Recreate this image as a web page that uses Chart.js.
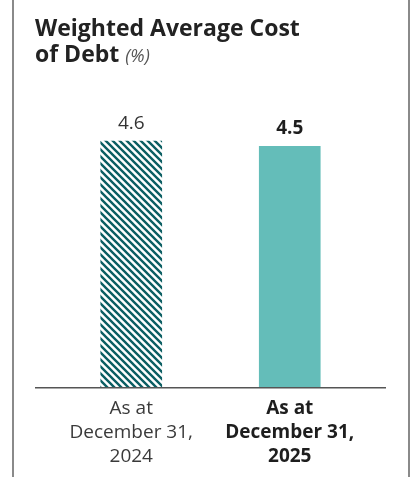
<!DOCTYPE html>
<html lang="en">
<head>
<meta charset="utf-8" />
<script src="https://cdn.jsdelivr.net/npm/chart.js@4.4.1/dist/chart.umd.min.js"></script>
<style>
  html, body { margin: 0; padding: 0; background: #fff; }
</style>
</head>
<body>
<canvas id="grafico" width="417" height="477"></canvas>
<script>
// datos
const categorias = [["As at", "December 31,", "2024"], ["As at", "December 31,", "2025"]];
const valores = [4.6, 4.5];
const etiquetas = ["4.6", "4.5"];
const tituloLinea1 = "Weighted Average Cost";
const tituloLinea2 = "of Debt";
const unidad = "(%)";

const fuente = "'Open Sans', 'Noto Sans', sans-serif";

// trama rayada para la barra 2024
function rayado(color) {
  const s = 7;
  const c = document.createElement("canvas");
  c.width = s; c.height = s;
  const g = c.getContext("2d");
  g.strokeStyle = color;
  g.lineWidth = 2.4;
  g.beginPath();
  g.moveTo(-1, -1); g.lineTo(s + 1, s + 1);
  g.moveTo(-1, s - 1); g.lineTo(1, s + 1);
  g.moveTo(s - 1, -1); g.lineTo(s + 1, 1);
  g.stroke();
  return g.createPattern(c, "repeat");
}

const decoracion = {
  id: "decoracion",
  beforeDraw(chart) {
    const ctx = chart.ctx;
    ctx.save();
    ctx.fillStyle = "#8a8a8a";
    ctx.fillRect(12, 0, 2, chart.height);
    ctx.fillRect(408, 0, 2, chart.height);
    ctx.restore();
  },
  afterDatasetsDraw(chart) {
    const ctx = chart.ctx;
    const area = chart.chartArea;
    const y0 = chart.scales.y.getPixelForValue(0);
    ctx.save();
    // linea base
    ctx.strokeStyle = "#555";
    ctx.lineWidth = 1.5;
    ctx.beginPath();
    ctx.moveTo(area.left - 17, y0);
    ctx.lineTo(area.right + 17, y0);
    ctx.stroke();
    // valores sobre las barras
    const meta = chart.getDatasetMeta(0);
    ctx.textAlign = "center";
    ctx.textBaseline = "bottom";
    meta.data.forEach((bar, i) => {
      ctx.fillStyle = i === 1 ? "#1e1e1e" : "#333";
      ctx.font = (i === 1 ? "bold " : "") + "19px " + fuente;
      ctx.fillText(etiquetas[i], bar.x, bar.y - 8);
    });
    // titulo
    ctx.textAlign = "left";
    ctx.textBaseline = "alphabetic";
    ctx.fillStyle = "#222";
    ctx.font = "bold 23px " + fuente;
    ctx.fillText(tituloLinea1, 35, 36);
    ctx.fillText(tituloLinea2, 35, 62);
    const w = ctx.measureText(tituloLinea2 + " ").width;
    ctx.fillStyle = "#555";
    ctx.font = "italic 18px " + fuente;
    ctx.fillText(unidad, 35 + w, 62);
    ctx.restore();
  }
};

new Chart(document.getElementById("grafico").getContext("2d"), {
  type: "bar",
  data: {
    labels: categorias,
    datasets: [{
      data: valores,
      backgroundColor: [rayado("#0b5e63"), "#64bdb9"],
      borderWidth: 0,
      barThickness: 61
    }]
  },
  options: {
    responsive: false,
    animation: false,
    devicePixelRatio: 1,
    layout: { padding: { top: 66, left: 52, right: 48, bottom: 0 } },
    plugins: { legend: { display: false }, tooltip: { enabled: false } },
    scales: {
      x: {
        grid: { display: false, drawTicks: false },
        border: { display: false },
        ticks: {
          padding: 9,
          color: (c) => c.index === 1 ? "#1e1e1e" : "#3a3a3a",
          font: (c) => ({ family: fuente, size: 19, lineHeight: 1.25, weight: c.index === 1 ? "bold" : "normal" })
        }
      },
      y: { display: false, min: 0, max: 6 }
    }
  },
  plugins: [decoracion]
});
</script>
</body>
</html>
